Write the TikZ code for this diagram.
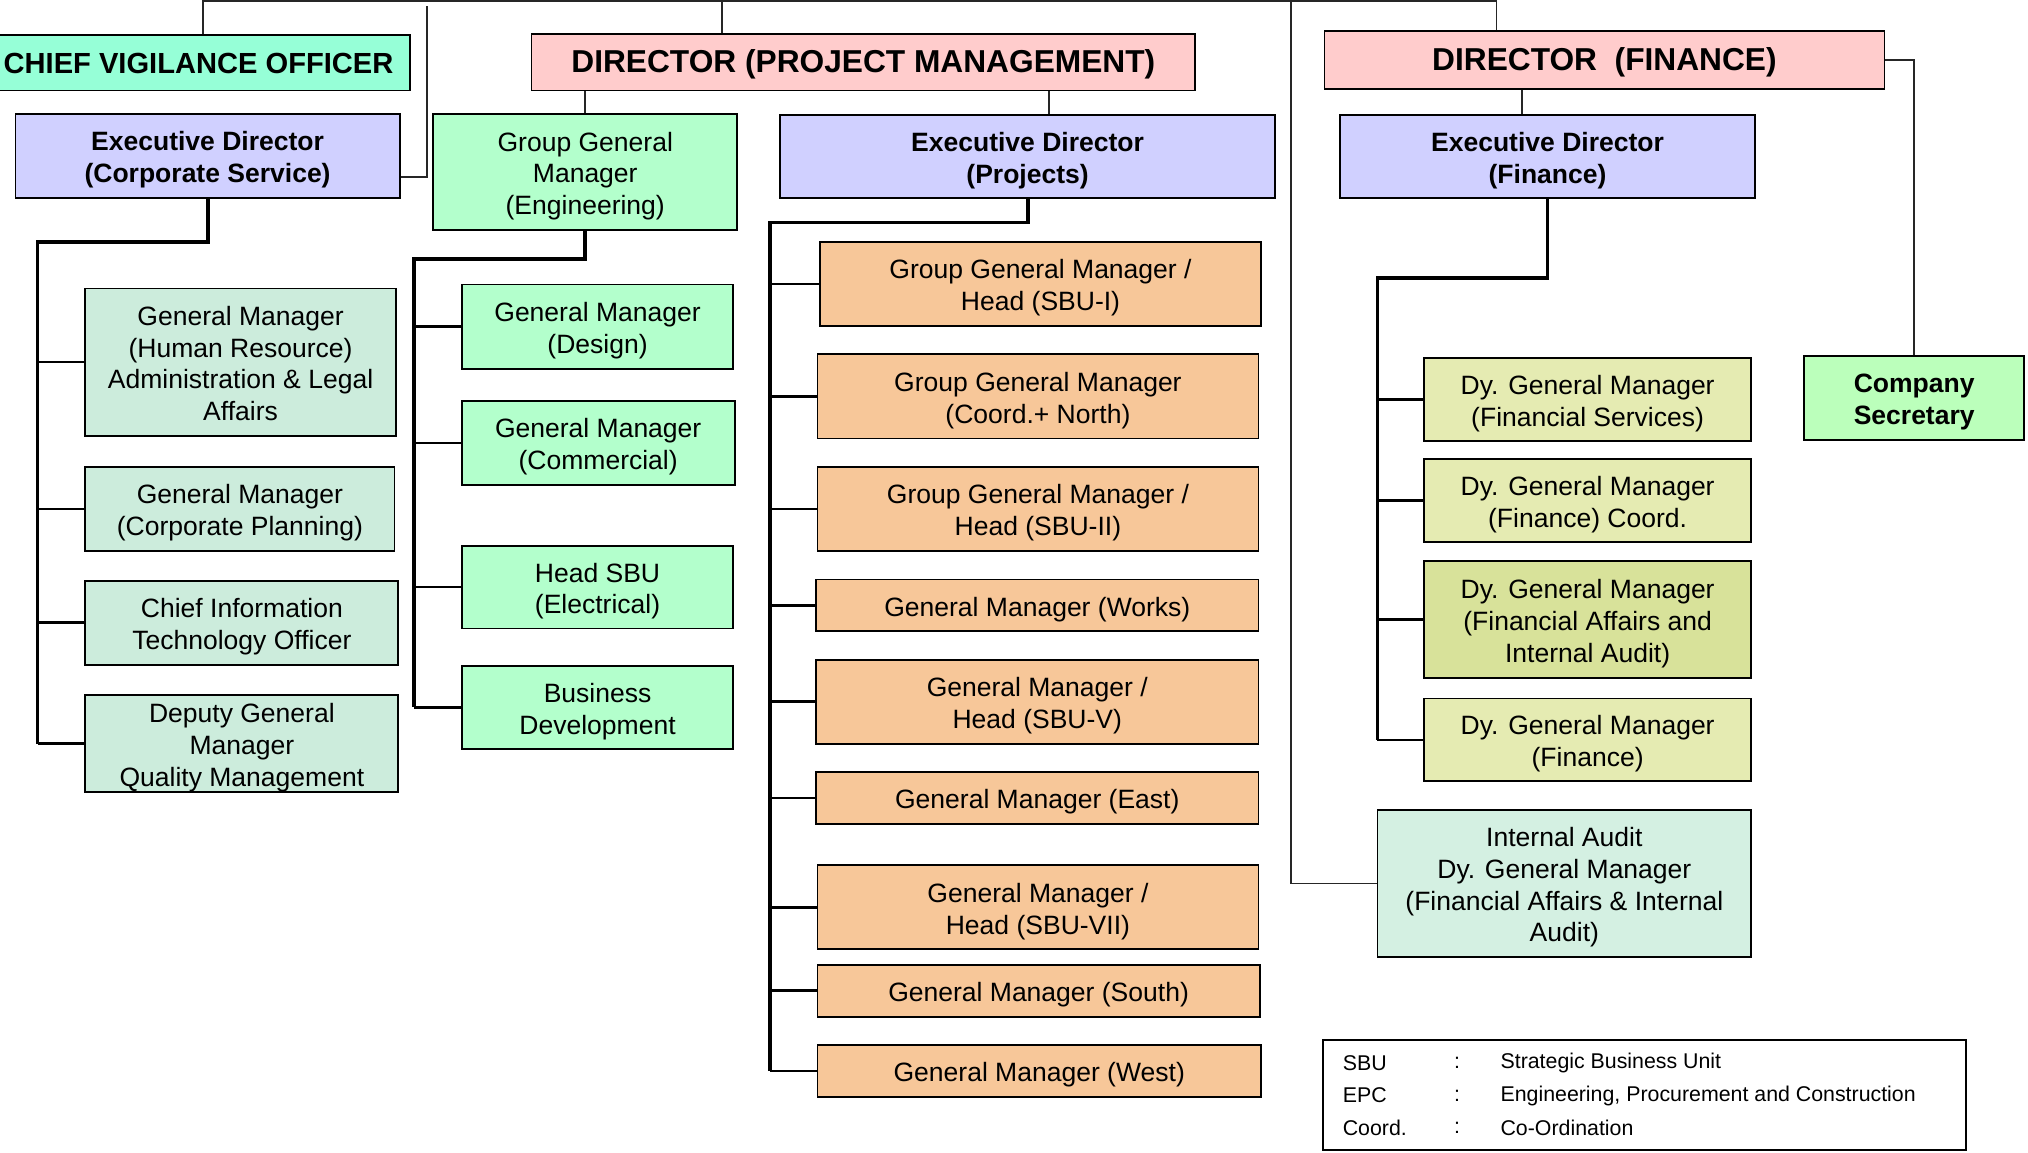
\documentclass[tikz,border=0pt]{standalone}
\usepackage{fontspec}
\setmainfont{Liberation Sans}
\newcommand\mystrut{\rule{0pt}{21.2pt}}
\begin{document}
\begin{tikzpicture}[x=1pt,y=-1pt,
  box/.style={draw=black, line width=1.4pt, inner sep=0pt, align=center, anchor=center,
    font=\fontsize{20.5}{24.6}\selectfont,
    execute at begin node={\rule{0pt}{21.2pt}},
    execute at end node={\rule[-4.5pt]{0pt}{4.5pt}}},
  bbox/.style={box, font=\fontsize{20.5}{24.6}\selectfont\bfseries},
  hbox/.style={box, font=\fontsize{24.5}{28}\selectfont\bfseries},
  conn/.style={line width=1.3pt, black!85},
  bus/.style={line width=3pt, black},
  branch/.style={line width=2pt, black},
  legtxt/.style={anchor=west, inner sep=0pt, font=\fontsize{16.5}{19}\selectfont}]
\definecolor{pinkf}{RGB}{255,204,204}
\definecolor{lavf}{RGB}{208,208,255}
\definecolor{aquaf}{RGB}{150,255,215}
\definecolor{greenf}{RGB}{179,255,204}
\definecolor{tealf}{RGB}{204,236,220}
\definecolor{orangef}{RGB}{247,199,153}
\definecolor{yellowf}{RGB}{229,235,178}
\definecolor{yellowd}{RGB}{216,226,154}
\definecolor{secf}{RGB}{187,255,187}
\definecolor{iaf}{RGB}{212,240,226}

\useasboundingbox (0,0) rectangle (1568,891);

% top level
\node[hbox, fill=aquaf, minimum width=327pt, minimum height=43pt, font=\fontsize{22.5}{26}\selectfont\bfseries] (cvo) at (153.5,48.5) {CHIEF VIGILANCE OFFICER};
\node[hbox, fill=pinkf, minimum width=513pt, minimum height=44pt] (dpm) at (667.5,48) {DIRECTOR (PROJECT MANAGEMENT)};
\node[hbox, fill=pinkf, minimum width=433pt, minimum height=45pt] (df) at (1240.5,46.5) {DIRECTOR~~(FINANCE)};

% second level
\node[bbox, fill=lavf, minimum width=297pt, minimum height=65pt] (edc) at (160.5,120.5) {\mystrut Executive Director\\(Corporate Service)};
\node[box, fill=greenf, minimum width=235pt, minimum height=90pt] (gge) at (452.5,133) {\mystrut Group General\\Manager\\(Engineering)};
\node[bbox, fill=lavf, minimum width=383pt, minimum height=64pt] (edp) at (794.5,121) {\mystrut Executive Director\\(Projects)};
\node[bbox, fill=lavf, minimum width=321pt, minimum height=64pt] (edf) at (1196.5,121) {\mystrut Executive Director\\(Finance)};

% corporate
\node[box, fill=tealf, minimum width=240pt, minimum height=114pt] (hr) at (186,280) {\mystrut General Manager\\(Human Resource)\\Administration \& Legal\\Affairs};
\node[box, fill=tealf, minimum width=239pt, minimum height=65pt] (cp) at (185.5,393.5) {\mystrut General Manager\\(Corporate Planning)};
\node[box, fill=tealf, minimum width=242pt, minimum height=65pt] (cio) at (187,481.5) {\mystrut Chief Information\\Technology Officer};
\node[box, fill=tealf, minimum width=242pt, minimum height=74pt] (dgm) at (187,575) {\mystrut Deputy General\\Manager\\Quality Management};

% engineering
\node[box, fill=greenf, minimum width=210pt, minimum height=65pt] (des) at (462,252.5) {\mystrut General Manager\\(Design)};
\node[box, fill=greenf, minimum width=211pt, minimum height=65pt] (com) at (462.5,342.5) {\mystrut General Manager\\(Commercial)};
\node[box, fill=greenf, minimum width=210pt, minimum height=64pt] (hsbu) at (462,454) {\mystrut Head SBU\\(Electrical)};
\node[box, fill=greenf, minimum width=210pt, minimum height=64pt] (bd) at (462,547) {\mystrut Business\\Development};

% projects
\node[box, fill=orangef, minimum width=341pt, minimum height=65pt] (p1) at (804.5,219.5) {\mystrut Group General Manager /\\Head (SBU-I)};
\node[box, fill=orangef, minimum width=341pt, minimum height=65pt] (p2) at (802.5,306.5) {\mystrut Group General Manager\\(Coord.+ North)};
\node[box, fill=orangef, minimum width=341pt, minimum height=65pt] (p3) at (802.5,393.5) {\mystrut Group General Manager /\\Head (SBU-II)};
\node[box, fill=orangef, minimum width=342pt, minimum height=40pt] (p4) at (802,468) {General Manager (Works)};
\node[box, fill=orangef, minimum width=342pt, minimum height=65pt] (p5) at (802,542.5) {\mystrut General Manager /\\Head (SBU-V)};
\node[box, fill=orangef, minimum width=342pt, minimum height=40pt] (p6) at (802,617) {General Manager (East)};
\node[box, fill=orangef, minimum width=341pt, minimum height=65pt] (p7) at (802.5,701.5) {\mystrut General Manager /\\Head (SBU-VII)};
\node[box, fill=orangef, minimum width=342pt, minimum height=40pt] (p8) at (803,766) {General Manager (South)};
\node[box, fill=orangef, minimum width=343pt, minimum height=40pt] (p9) at (803.5,828) {General Manager (West)};

% finance
\node[box, fill=yellowf, minimum width=253pt, minimum height=64pt] (f1) at (1227.5,309) {\mystrut Dy. General Manager\\(Financial Services)};
\node[box, fill=yellowf, minimum width=253pt, minimum height=64pt] (f2) at (1227.5,387) {\mystrut Dy. General Manager\\(Finance) Coord.};
\node[box, fill=yellowd, minimum width=253pt, minimum height=90pt] (f3) at (1227.5,479) {\mystrut Dy. General Manager\\(Financial Affairs and\\Internal Audit)};
\node[box, fill=yellowf, minimum width=253pt, minimum height=64pt] (f4) at (1227.5,572) {\mystrut Dy. General Manager\\(Finance)};
\node[bbox, fill=secf, minimum width=170pt, minimum height=65pt] (csec) at (1480,307.5) {\mystrut Company\\Secretary};
\node[box, fill=iaf, minimum width=289pt, minimum height=114pt] (ia) at (1209.5,683) {\mystrut Internal Audit\\Dy. General Manager\\(Financial Affairs \& Internal\\Audit)};

% legend
\node[draw=black, line width=2pt, minimum width=497pt, minimum height=85pt, inner sep=0pt] (leg) at (1271.5,846.5) {};
\node[legtxt] (l1a) at (1038,822) {SBU};
\node[legtxt] (l1b) at (1124,822) {:};
\node[legtxt] (l1c) at (1160,822) {Strategic Business Unit};
\node[legtxt] (l2a) at (1038,847) {EPC};
\node[legtxt] (l2b) at (1124,847) {:};
\node[legtxt] (l2c) at (1160,847) {Engineering, Procurement and Construction};
\node[legtxt] (l3a) at (1038,872) {Coord.};
\node[legtxt] (l3b) at (1124,872) {:};
\node[legtxt] (l3c) at (1160,872) {Co-Ordination};

% top connectors
\coordinate (tl) at (157,1);
\coordinate (tr) at (1157,1);
\coordinate (tm) at (558,1);
\coordinate (cs) at (330,5);
\coordinate (csj) at (330,137);
\coordinate (fv) at (998,1);
\coordinate (x811) at (811,0);
\coordinate (x1177) at (1177,0);
\draw[conn] (cvo.north -| tl) -- (tl) -- (tr) -- (tr |- df.north);
\draw[conn] (tm) -- (tm |- dpm.north);
\draw[conn] (cs) -- (csj) -- (csj -| edc.east);
\draw[conn] (fv) |- (ia.west);
\draw[conn] (df.east) -| (csec.north);
\draw[conn] (gge.north) -- (gge.north |- dpm.south);
\draw[conn] (dpm.south -| x811) -- (edp.north -| x811);
\draw[conn] (df.south -| x1177) -- (edf.north -| x1177);

% corporate bus
\coordinate (cbus) at (29,187);
\draw[bus] (edc.south) |- (cbus) -- (cbus |- dgm.west);
\foreach \n in {hr,cp,cio,dgm} \draw[branch] (cbus |- \n.west) -- (\n.west);

% engineering bus
\coordinate (ebus) at (320,200);
\draw[bus] (gge.south) |- (ebus) -- (ebus |- bd.west);
\foreach \n in {des,com,hsbu,bd} \draw[branch] (ebus |- \n.west) -- (\n.west);

% projects bus
\coordinate (pbus) at (595,172);
\draw[bus] (edp.south) |- (pbus) -- (pbus |- p9.west);
\foreach \n in {p1,p2,p3,p4,p5,p6,p7,p8,p9} \draw[branch] (pbus |- \n.west) -- (\n.west);

% finance bus
\coordinate (fbus) at (1065,215);
\draw[bus] (edf.south) |- (fbus) -- (fbus |- f4.west);
\foreach \n in {f1,f2,f3,f4} \draw[branch] (fbus |- \n.west) -- (\n.west);
\end{tikzpicture}
\end{document}
